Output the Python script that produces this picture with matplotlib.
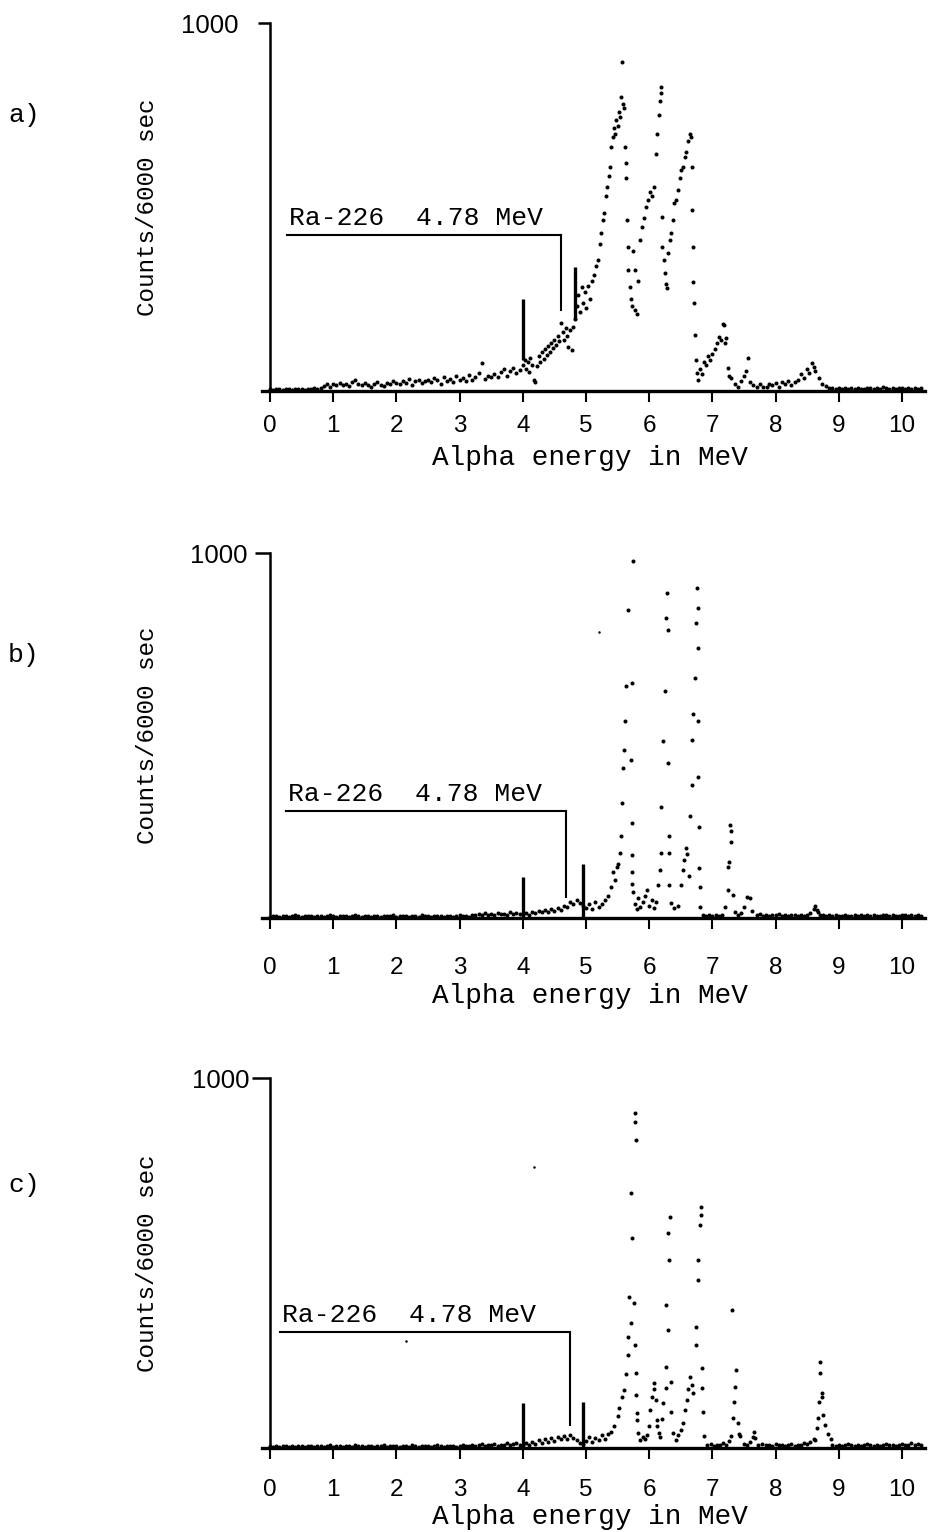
import numpy as np
import matplotlib
matplotlib.use('Agg')
import matplotlib.pyplot as plt

# ---------------------------------------------------------------
# Datos (energía en MeV, cuentas / 6000 s)
# ---------------------------------------------------------------
# Canales de las colas planas del espectro
tail_lo_e = np.linspace(0.0, 3.95, 80)
tail_hi_e = np.linspace(8.9, 10.3, 29)

# Panel a)
a_lo = [5, 4, 6, 5, 4, 5, 6, 4, 5, 6,
        5, 4, 6, 5, 7, 6, 8, 14, 18, 12,
        20, 16, 22, 15, 19, 14, 25, 31, 20, 17,
        22, 15, 12, 20, 24, 16, 14, 22, 18, 26,
        21, 19, 28, 23, 33, 17, 26, 30, 22, 27,
        31, 24, 36, 29, 20, 38, 27, 33, 25, 40,
        30, 35, 28, 44, 31, 39, 48, 75, 33, 42,
        37, 45, 38, 52, 60, 41, 55, 63, 48, 58]
a_hi = [7, 5, 8, 6, 9, 5, 7, 6, 8, 5,
        6, 9, 7, 5, 8, 6, 10, 7, 5, 8,
        6, 9, 7, 6, 8, 5, 7, 6, 9]
a_pk_e = [4.00, 4.03, 4.05, 4.08, 4.10, 4.12, 4.15, 4.18, 4.20, 4.22,
          4.25, 4.28, 4.30, 4.33, 4.35, 4.38, 4.40, 4.43, 4.45, 4.48,
          4.50, 4.53, 4.55, 4.58, 4.60, 4.63, 4.65, 4.68, 4.70, 4.72,
          4.75, 4.78, 4.80, 4.83, 4.86, 4.88, 4.90, 4.93, 4.95, 4.98,
          5.00, 5.03, 5.06, 5.09, 5.12, 5.16, 5.19, 5.22, 5.24, 5.27,
          5.29, 5.32, 5.34, 5.36, 5.38, 5.40, 5.42, 5.44, 5.46, 5.48,
          5.50, 5.52, 5.54, 5.56, 5.57, 5.58, 5.60, 5.62, 5.63, 5.64,
          5.65, 5.66, 5.67, 5.69, 5.71, 5.73, 5.75, 5.77, 5.78, 5.80,
          5.83, 5.85, 5.88, 5.92, 5.95, 5.98, 6.01, 6.04, 6.07, 6.10,
          6.12, 6.15, 6.17, 6.18, 6.19, 6.20, 6.21, 6.23, 6.25, 6.26,
          6.28, 6.30, 6.33, 6.35, 6.38, 6.40, 6.43, 6.45, 6.48, 6.50,
          6.53, 6.56, 6.59, 6.62, 6.64, 6.66, 6.67, 6.68, 6.69, 6.70,
          6.71, 6.72, 6.74, 6.76, 6.78, 6.80, 6.83, 6.86, 6.90, 6.93,
          6.96, 7.00, 7.04, 7.07, 7.10, 7.13, 7.16, 7.19, 7.20, 7.22,
          7.24, 7.27, 7.30, 7.35, 7.40, 7.46, 7.50, 7.53, 7.57, 7.60,
          7.65, 7.70, 7.75, 7.80, 7.86, 7.90, 7.95, 8.00, 8.05, 8.10,
          8.15, 8.20, 8.25, 8.30, 8.35, 8.40, 8.45, 8.50, 8.53, 8.57,
          8.60, 8.63, 8.68, 8.73, 8.79, 8.85]
a_pk_c = [70, 84, 60, 78, 52, 90, 72, 30, 25, 68,
          95, 80, 105, 88, 115, 98, 122, 105, 130, 118,
          140, 125, 150, 135, 184, 160, 140, 172, 150, 120,
          165, 112, 175, 195, 230, 260, 215, 283, 240, 270,
          225, 285, 250, 300, 315, 340, 356, 400, 430, 465,
          483, 530, 555, 585, 610, 664, 690, 715, 700, 736,
          720, 760, 745, 800, 895, 780, 770, 664, 620, 578,
          465, 392, 330, 283, 250, 230, 380, 328, 220, 210,
          300, 410, 447, 470, 500, 520, 540, 530, 555, 645,
          700, 750, 790, 827, 810, 473, 392, 356, 320, 290,
          280, 374, 410, 430, 465, 510, 520, 546, 580, 600,
          610, 637, 650, 680, 700, 690, 610, 492, 392, 297,
          238, 152, 85, 50, 30, 60, 45, 80, 70, 95,
          85, 100, 115, 130, 148, 140, 181, 180, 130, 145,
          63, 40, 36, 20, 12, 27, 40, 55, 90, 25,
          15, 10, 18, 12, 10, 20, 15, 22, 12, 25,
          18, 27, 15, 25, 30, 45, 36, 60, 50, 77,
          65, 55, 36, 20, 14, 8]
a_bar_e = [4.0, 4.83]
a_bar_lo = [84, 193]
a_bar_hi = [249, 338]
a_ra = [0.27, 425, 4.61, 220]     # inicio, nivel, energía, extremo inferior
a_speck_e = []
a_speck_c = []

# Panel b)
b_lo = [4, 6, 5, 3, 7, 5, 4, 6, 8, 5,
        4, 6, 5, 7, 4, 6, 5, 3, 6, 8,
        5, 4, 7, 5, 6, 4, 5, 8, 6, 4,
        7, 5, 3, 6, 5, 4, 7, 6, 5, 8,
        4, 6, 5, 7, 3, 5, 6, 4, 8, 6,
        5, 4, 7, 5, 6, 3, 5, 7, 4, 6,
        8, 5, 6, 4, 10, 8, 12, 9, 14, 10,
        12, 9, 15, 11, 13, 10, 16, 12, 14, 11]
b_hi = [6, 8, 5, 7, 9, 6, 5, 8, 7, 10,
        6, 8, 5, 9, 7, 6, 10, 8, 6, 9,
        7, 5, 8, 10, 6, 9, 7, 8, 6]
b_pk_e = [4.00, 4.05, 4.10, 4.15, 4.20, 4.25, 4.30, 4.35, 4.40, 4.45,
          4.50, 4.55, 4.60, 4.65, 4.70, 4.75, 4.80, 4.85, 4.90, 4.95,
          5.00, 5.05, 5.10, 5.15, 5.20, 5.25, 5.30, 5.35, 5.40, 5.43,
          5.46, 5.49, 5.51, 5.54, 5.56, 5.57, 5.59, 5.60, 5.62, 5.64,
          5.66, 5.75, 5.72, 5.71, 5.72, 5.72, 5.73, 5.73, 5.74, 5.77,
          5.80, 5.83, 5.86, 5.90, 5.94, 5.97, 6.00, 6.04, 6.08, 6.11,
          6.14, 6.17, 6.18, 6.19, 6.22, 6.25, 6.27, 6.28, 6.30, 6.30,
          6.31, 6.31, 6.32, 6.35, 6.40, 6.45, 6.50, 6.53, 6.55, 6.58,
          6.60, 6.63, 6.65, 6.67, 6.68, 6.70, 6.73, 6.74, 6.75, 6.77,
          6.78, 6.78, 6.78, 6.79, 6.79, 6.80, 6.81, 6.85, 6.90, 6.95,
          7.00, 7.05, 7.10, 7.15, 7.20, 7.24, 7.25, 7.27, 7.28, 7.29,
          7.30, 7.33, 7.36, 7.40, 7.45, 7.50, 7.55, 7.60, 7.63, 7.70,
          7.75, 7.80, 7.85, 7.90, 7.95, 8.00, 8.05, 8.10, 8.15, 8.20,
          8.25, 8.30, 8.35, 8.40, 8.45, 8.50, 8.55, 8.60, 8.62, 8.65,
          8.67, 8.70, 8.75, 8.80, 8.85]
b_pk_c = [12, 15, 10, 18, 14, 20, 16, 22, 18, 25,
          20, 28, 24, 35, 30, 45, 38, 50, 42, 35,
          28, 40, 25, 45, 30, 38, 50, 60, 85, 128,
          105, 140, 150, 178, 225, 315, 411, 461, 540, 635,
          845, 977, 644, 434, 260, 174, 128, 95, 73, 40,
          25, 55, 30, 45, 60, 78, 35, 50, 28, 45,
          91, 132, 178, 306, 484, 621, 822, 890, 790, 425,
          224, 178, 91, 41, 27, 35, 91, 132, 160, 192,
          175, 115, 279, 365, 489, 560, 658, 808, 904, 740,
          849, 539, 388, 251, 137, 87, 32, 8, 5, 10,
          6, 8, 5, 10, 32, 78, 140, 155, 256, 240,
          210, 64, 18, 8, 14, 30, 59, 55, 20, 8,
          12, 7, 10, 6, 9, 8, 11, 7, 9, 6,
          10, 8, 7, 9, 6, 10, 15, 26, 35, 22,
          16, 10, 8, 6, 9]
b_bar_e = [4.0, 4.95]
b_bar_lo = [0, 0]
b_bar_hi = [114, 150]
b_ra = [0.25, 295, 4.69, 59]
b_speck_e = [5.21]
b_speck_c = [783]

# Panel c)
c_lo = [5, 3, 6, 4, 5, 7, 4, 6, 3, 5,
        6, 4, 5, 7, 3, 6, 5, 4, 6, 8,
        4, 5, 7, 3, 6, 5, 4, 8, 5, 6,
        3, 7, 5, 4, 6, 5, 8, 4, 6, 5,
        7, 4, 5, 6, 3, 8, 5, 4, 6, 7,
        5, 4, 6, 8, 5, 3, 7, 5, 6, 4,
        6, 9, 5, 7, 10, 6, 8, 11, 7, 9,
        8, 12, 7, 10, 9, 13, 8, 11, 14, 9]
c_hi = [8, 6, 10, 7, 9, 12, 8, 6, 10, 7,
        9, 11, 8, 7, 10, 6, 9, 12, 8, 10,
        7, 9, 11, 8, 10, 13, 9, 11, 8]
c_pk_e = [4.00, 4.05, 4.10, 4.15, 4.20, 4.25, 4.30, 4.35, 4.40, 4.45,
          4.50, 4.55, 4.60, 4.65, 4.70, 4.75, 4.80, 4.85, 4.90, 4.95,
          5.00, 5.05, 5.10, 5.15, 5.20, 5.25, 5.30, 5.35, 5.40, 5.45,
          5.50, 5.53, 5.57, 5.60, 5.63, 5.66, 5.67, 5.68, 5.71, 5.71,
          5.73, 5.76, 5.77, 5.78, 5.79, 5.78, 5.79, 5.79, 5.80, 5.80,
          5.83, 5.86, 5.90, 5.94, 5.97, 6.00, 6.02, 6.05, 6.07, 6.08,
          6.10, 6.12, 6.13, 6.15, 6.17, 6.20, 6.22, 6.26, 6.27, 6.27,
          6.30, 6.30, 6.32, 6.33, 6.34, 6.35, 6.38, 6.42, 6.46, 6.50,
          6.53, 6.56, 6.60, 6.62, 6.65, 6.68, 6.70, 6.74, 6.74, 6.77,
          6.78, 6.81, 6.82, 6.82, 6.83, 6.84, 6.85, 6.87, 6.92, 6.97,
          7.02, 7.07, 7.12, 7.17, 7.22, 7.27, 7.29, 7.31, 7.33, 7.34,
          7.36, 7.38, 7.40, 7.42, 7.44, 7.50, 7.55, 7.60, 7.64, 7.66,
          7.68, 7.72, 7.78, 7.85, 7.90, 7.95, 8.00, 8.05, 8.10, 8.15,
          8.20, 8.25, 8.30, 8.35, 8.40, 8.45, 8.50, 8.55, 8.60, 8.63,
          8.66, 8.67, 8.68, 8.70, 8.71, 8.73, 8.74, 8.75, 8.78, 8.83,
          8.88]
c_pk_c = [10, 14, 8, 18, 12, 22, 15, 25, 18, 28,
          20, 30, 24, 32, 26, 35, 28, 22, 15, 12,
          20, 30, 18, 28, 22, 35, 25, 40, 45, 59,
          86, 108, 140, 158, 200, 252, 302, 410, 338, 689,
          568, 392, 905, 883, 833, 279, 203, 144, 95, 77,
          41, 23, 30, 25, 35, 60, 104, 140, 176, 160,
          131, 77, 59, 41, 30, 80, 122, 162, 221, 387,
          320, 581, 509, 626, 180, 99, 41, 23, 35, 50,
          68, 104, 131, 160, 194, 170, 150, 279, 329, 455,
          509, 604, 630, 653, 216, 162, 99, 32, 8, 12,
          6, 10, 8, 14, 10, 20, 32, 374, 81, 126,
          167, 212, 68, 40, 32, 12, 8, 18, 30, 45,
          28, 10, 12, 8, 10, 6, 12, 8, 10, 6,
          9, 12, 7, 10, 8, 14, 12, 18, 25, 23,
          54, 81, 126, 203, 232, 149, 140, 90, 63, 40,
          25]
c_bar_e = [4.0, 4.95]
c_bar_lo = [0, 0]
c_bar_hi = [122, 126]
c_ra = [0.16, 315, 4.75, 63]
c_speck_e = [4.18, 2.15]
c_speck_c = [761, 289]

panel_labels = ['a)', 'b)', 'c)']
ra_text = 'Ra-226  4.78 MeV'
x_ticks = list(range(11))

# ---------------------------------------------------------------
# Geometría (pixeles de la imagen original)
# ---------------------------------------------------------------
W, H = 929, 1532
x0_px, mev_px = 270.0, 63.2
xlo, xhi = -0.15, 10.42
mono = 'Liberation Mono'
sans = 'Liberation Sans'

paneles = [
    dict(lo=a_lo, hi=a_hi, pe=a_pk_e, pc=a_pk_c, be=a_bar_e, blo=a_bar_lo,
         bhi=a_bar_hi, ra=a_ra, se=a_speck_e, sc=a_speck_c,
         base=391.0, top=23.3, ylen=8.5, ypad=14, xpad=9, xl=67, lab_y=115),
    dict(lo=b_lo, hi=b_hi, pe=b_pk_e, pc=b_pk_c, be=b_bar_e, blo=b_bar_lo,
         bhi=b_bar_hi, ra=b_ra, se=b_speck_e, sc=b_speck_c,
         base=918.3, top=553.0, ylen=11, ypad=5, xpad=20, xl=78, lab_y=655),
    dict(lo=c_lo, hi=c_hi, pe=c_pk_e, pc=c_pk_c, be=c_bar_e, blo=c_bar_lo,
         bhi=c_bar_hi, ra=c_ra, se=c_speck_e, sc=c_speck_c,
         base=1448.3, top=1078.3, ylen=13, ypad=1.5, xpad=14, xl=69,
         lab_y=1185),
]

fig = plt.figure(figsize=(W / 100, H / 100), dpi=100)

for i, p in enumerate(paneles):
    left = (x0_px + xlo * mev_px) / W
    width = (xhi - xlo) * mev_px / W
    ax = fig.add_axes([left, 1 - p['base'] / H, width,
                       (p['base'] - p['top']) / H])
    ax.set_xlim(xlo, xhi)
    ax.set_ylim(0, 1000)

    # Espectro en puntos
    kw = dict(ls='none', marker='o', ms=2.9, mfc='black', mec='none',
              clip_on=False, zorder=3)
    ax.plot(tail_lo_e, p['lo'], **kw)
    ax.plot(tail_hi_e, p['hi'], **kw)
    ax.plot(p['pe'], p['pc'], **kw)
    ax.plot(p['se'], p['sc'], ls='none', marker='o', ms=1.8, mfc='black',
            mec='none')

    # Marcas de calibración
    ax.vlines(p['be'], p['blo'], p['bhi'], color='black', lw=2.4, zorder=4)

    # Indicador Ra-226
    x_ini, nivel, e_ra, fondo = p['ra']
    ax.plot([x_ini, e_ra], [nivel, nivel], color='black', lw=1.5)
    ax.plot([e_ra, e_ra], [nivel, fondo], color='black', lw=1.5)
    ax.annotate(ra_text, xy=(x_ini, nivel), xytext=(1.5, 7),
                textcoords='offset points', ha='left', va='baseline',
                family=mono, fontsize=19)

    # Ejes estilo trazador
    for s in ['top', 'right']:
        ax.spines[s].set_visible(False)
    ax.spines['left'].set_position(('data', 0))
    ax.spines['left'].set_bounds(0, 1000)
    ax.spines['left'].set_linewidth(1.8)
    ax.spines['bottom'].set_bounds(-0.13, 10.36)
    ax.spines['bottom'].set_linewidth(2.4)
    ax.set_xticks(x_ticks)
    ax.set_yticks([1000])
    ax.tick_params(axis='x', direction='out', length=8, width=1.5,
                   pad=p['xpad'], labelsize=17.5)
    ax.tick_params(axis='y', direction='out', length=p['ylen'], width=1.8,
                   pad=p['ypad'], labelsize=18.5)
    for lab in ax.get_xticklabels() + ax.get_yticklabels():
        lab.set_family(sans)

    # Textos
    fig.text(590 / W, 1 - (p['base'] + p['xl']) / H, 'Alpha energy in MeV',
             family=mono, fontsize=20, ha='center', va='center')
    fig.text(148 / W, 1 - (p['base'] + p['top']) / 2 / H,
             'Counts/6000 sec', family=mono, fontsize=17.5,
             rotation=90, ha='center', va='center')
    fig.text(24 / W, 1 - p['lab_y'] / H, panel_labels[i], family=mono,
             fontsize=19, ha='center', va='center')

fig.savefig('out.png', dpi=100)
